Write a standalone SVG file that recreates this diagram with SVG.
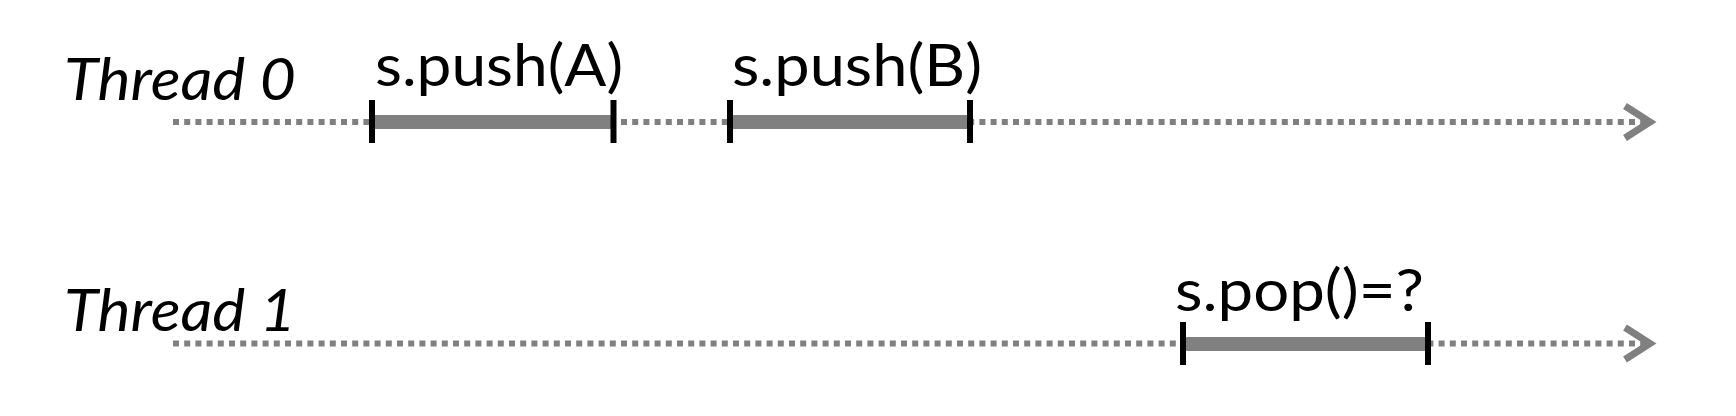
<svg xmlns="http://www.w3.org/2000/svg" width="1736" height="416" viewBox="0 0 1736 416">
<style>
.lbl{font-family:Lato,"Open Sans","Liberation Sans",sans-serif;font-size:58px;fill:#000}
.thr{font-style:italic}
.tl{stroke:#808080;stroke-width:6;stroke-dasharray:6 5.2;fill:none}
.bar{stroke:#808080;stroke-width:14;fill:none}
.tick{stroke:#000;stroke-width:6;fill:none}
</style>
<defs>
<marker id="arr" markerUnits="userSpaceOnUse" markerWidth="40" markerHeight="44" refX="30" refY="22" orient="auto" overflow="visible">
<path d="M5 6 L30 22 L5 38" fill="none" stroke="#808080" stroke-width="7" stroke-dasharray="none"/>
</marker>
</defs>
<rect width="1736" height="416" fill="#fff"/>
<g id="connectors">
<line class="tl" x1="173" y1="122" x2="1650" y2="122" marker-end="url(#arr)"/>
<line class="tl" x1="173" y1="343.5" x2="1650" y2="343.5" marker-end="url(#arr)"/>
</g>
<g id="thread0">
<text class="lbl thr" x="64" y="100" textLength="232" lengthAdjust="spacingAndGlyphs">Thread 0</text>
</g>
<g id="thread1">
<text class="lbl thr" x="64" y="331" textLength="232" lengthAdjust="spacingAndGlyphs">Thread 1</text>
</g>
<g id="pushA">
<line class="bar" x1="372" y1="122" x2="613" y2="122"/>
<line class="tick" x1="372" y1="100" x2="372" y2="143"/>
<line class="tick" x1="613.5" y1="100" x2="613.5" y2="143"/>
<text class="lbl" x="375" y="86" textLength="248" lengthAdjust="spacingAndGlyphs">s.push(A)</text>
</g>
<g id="pushB">
<line class="bar" x1="730" y1="122" x2="970" y2="122"/>
<line class="tick" x1="730" y1="100" x2="730" y2="143"/>
<line class="tick" x1="970" y1="100" x2="970" y2="143"/>
<text class="lbl" x="732" y="86" textLength="250" lengthAdjust="spacingAndGlyphs">s.push(B)</text>
</g>
<g id="pop">
<line class="bar" x1="1183" y1="344" x2="1428" y2="344"/>
<line class="tick" x1="1183" y1="322" x2="1183" y2="365"/>
<line class="tick" x1="1428" y1="322" x2="1428" y2="365"/>
<text class="lbl" x="1175" y="311" textLength="249" lengthAdjust="spacingAndGlyphs">s.pop()=?</text>
</g>
</svg>
